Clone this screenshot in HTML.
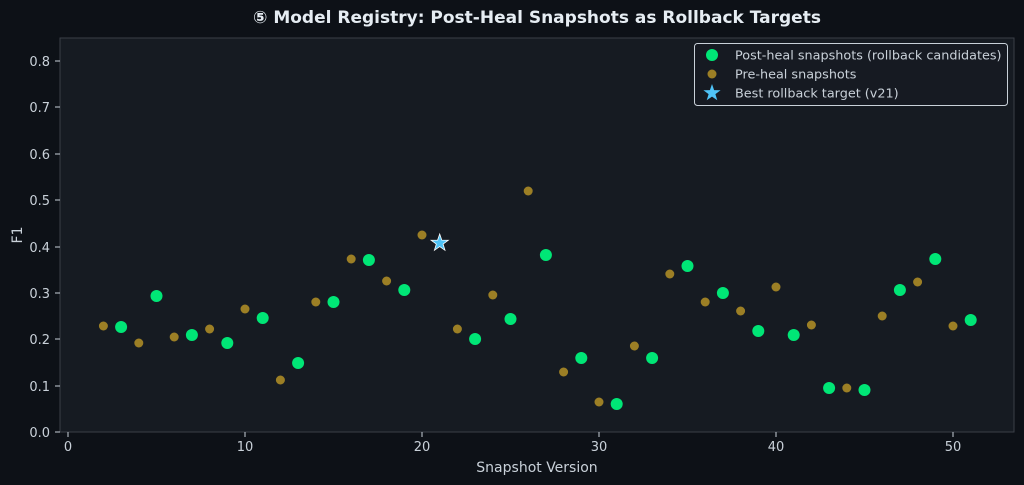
<!DOCTYPE html>
<html><head><meta charset="utf-8"><style>
html,body{margin:0;padding:0;background:#0d1117;}
svg{display:block;font-family:"Liberation Sans","DejaVu Sans",sans-serif;}
</style></head><body>
<svg width="1024" height="485" viewBox="0 0 1024 485" xmlns="http://www.w3.org/2000/svg">
<rect width="1024" height="485" fill="#0d1117"/>
<text x="537" y="23" fill="#e6edf3" font-size="17" font-weight="bold" text-anchor="middle" font-family="DejaVu Sans, sans-serif">⑤ Model Registry: Post-Heal Snapshots as Rollback Targets</text>
<rect x="60" y="38" width="954" height="394" fill="#161b22" stroke="#3a3f47" stroke-width="1"/>
<g fill="#c9d1d9" font-size="13" font-family="DejaVu Sans, sans-serif">
<g text-anchor="end">
<text x="50" y="437">0.0</text><text x="50" y="391">0.1</text><text x="50" y="344">0.2</text><text x="50" y="298">0.3</text><text x="50" y="252">0.4</text><text x="50" y="205">0.5</text><text x="50" y="159">0.6</text><text x="50" y="112">0.7</text><text x="50" y="66">0.8</text>
</g>
<g text-anchor="middle">
<text x="68" y="451">0</text><text x="245" y="451">10</text><text x="422" y="451">20</text><text x="599" y="451">30</text><text x="776" y="451">40</text><text x="953" y="451">50</text>
<text x="537" y="472" font-size="14">Snapshot Version</text>
</g>
<text x="22" y="235" font-size="14" text-anchor="middle" transform="rotate(-90 22 235)">F1</text>
</g>
<g stroke="#c9d1d9" stroke-width="1">
<line x1="55" y1="432" x2="60" y2="432"/><line x1="55" y1="386" x2="60" y2="386"/><line x1="55" y1="339" x2="60" y2="339"/><line x1="55" y1="293" x2="60" y2="293"/><line x1="55" y1="247" x2="60" y2="247"/><line x1="55" y1="200" x2="60" y2="200"/><line x1="55" y1="154" x2="60" y2="154"/><line x1="55" y1="107" x2="60" y2="107"/><line x1="55" y1="61" x2="60" y2="61"/>
<line x1="68" y1="432" x2="68" y2="437"/><line x1="245" y1="432" x2="245" y2="437"/><line x1="422" y1="432" x2="422" y2="437"/><line x1="599" y1="432" x2="599" y2="437"/><line x1="776" y1="432" x2="776" y2="437"/><line x1="953" y1="432" x2="953" y2="437"/>
</g>
<g fill="#c9a227" fill-opacity="0.75">
<circle cx="103.4" cy="326" r="4.5"/><circle cx="138.8" cy="343" r="4.5"/><circle cx="174.2" cy="337" r="4.5"/><circle cx="209.6" cy="329" r="4.5"/><circle cx="245" cy="309" r="4.5"/><circle cx="280.4" cy="380" r="4.5"/><circle cx="315.8" cy="302" r="4.5"/><circle cx="351.2" cy="259" r="4.5"/><circle cx="386.6" cy="281" r="4.5"/><circle cx="422" cy="235" r="4.5"/><circle cx="457.4" cy="329" r="4.5"/><circle cx="492.8" cy="295" r="4.5"/><circle cx="528.2" cy="191" r="4.5"/><circle cx="563.6" cy="372" r="4.5"/><circle cx="599" cy="402" r="4.5"/><circle cx="634.4" cy="346" r="4.5"/><circle cx="669.8" cy="274" r="4.5"/><circle cx="705.2" cy="302" r="4.5"/><circle cx="740.6" cy="311" r="4.5"/><circle cx="776" cy="287" r="4.5"/><circle cx="811.4" cy="325" r="4.5"/><circle cx="846.8" cy="388" r="4.5"/><circle cx="882.2" cy="316" r="4.5"/><circle cx="917.6" cy="282" r="4.5"/><circle cx="953" cy="326" r="4.5"/>
</g>
<g fill="#00e676">
<circle cx="121.1" cy="327" r="6"/><circle cx="156.5" cy="296" r="6"/><circle cx="191.9" cy="335" r="6"/><circle cx="227.3" cy="343" r="6"/><circle cx="262.7" cy="318" r="6"/><circle cx="298.1" cy="363" r="6"/><circle cx="333.5" cy="302" r="6"/><circle cx="368.9" cy="260" r="6"/><circle cx="404.3" cy="290" r="6"/><circle cx="475.1" cy="339" r="6"/><circle cx="510.5" cy="319" r="6"/><circle cx="545.9" cy="255" r="6"/><circle cx="581.3" cy="358" r="6"/><circle cx="616.7" cy="404" r="6"/><circle cx="652.1" cy="358" r="6"/><circle cx="687.5" cy="266" r="6"/><circle cx="722.9" cy="293" r="6"/><circle cx="758.3" cy="331" r="6"/><circle cx="793.7" cy="335" r="6"/><circle cx="829.1" cy="388" r="6"/><circle cx="864.5" cy="390" r="6"/><circle cx="899.9" cy="290" r="6"/><circle cx="935.3" cy="259" r="6"/><circle cx="970.7" cy="320" r="6"/>
</g>
<polygon transform="translate(439.7 243)" fill="#4fc3f7" stroke="#ffffff" stroke-width="0.8" points="0,-9 2.1,-2.9 8.6,-2.8 3.4,1.1 5.3,7.3 0,3.6 -5.3,7.3 -3.4,1.1 -8.6,-2.8 -2.1,-2.9"/>
<rect x="694.5" y="43.5" width="313" height="62" rx="3" fill="#161b22" fill-opacity="0.9" stroke="#c9d1d9" stroke-width="1"/>
<circle cx="712" cy="55" r="6" fill="#00e676"/>
<circle cx="712" cy="74" r="4.5" fill="#c9a227" fill-opacity="0.75"/>
<polygon transform="translate(712 93)" fill="#4fc3f7" points="0,-9 2.1,-2.9 8.6,-2.8 3.4,1.1 5.3,7.3 0,3.6 -5.3,7.3 -3.4,1.1 -8.6,-2.8 -2.1,-2.9"/>
<g fill="#c9d1d9" font-size="12.8" font-family="DejaVu Sans, sans-serif">
<text x="735" y="59.5">Post-heal snapshots (rollback candidates)</text>
<text x="735" y="78.5">Pre-heal snapshots</text>
<text x="735" y="97.5">Best rollback target (v21)</text>
</g>
</svg>
</body></html>
